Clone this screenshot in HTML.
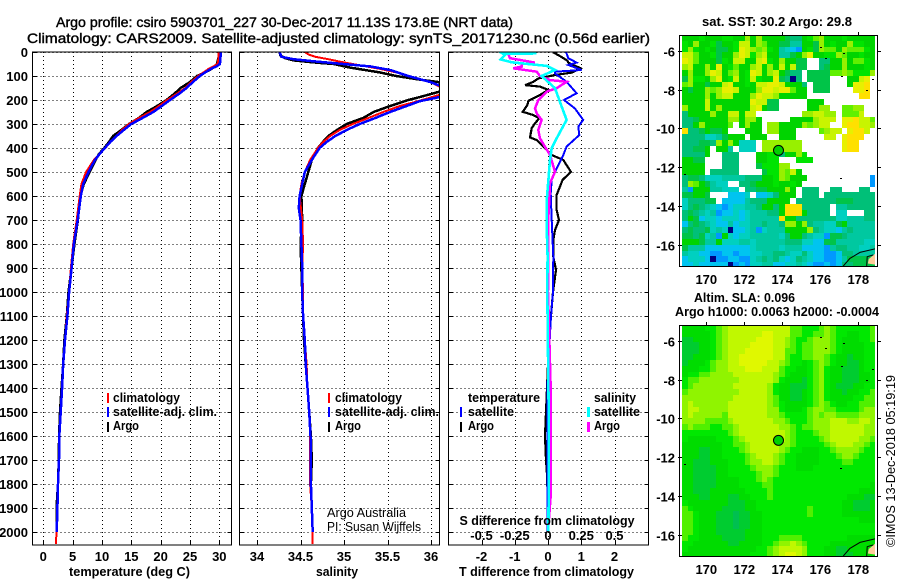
<!DOCTYPE html>
<html>
<head>
<meta charset="utf-8">
<title>Argo profile</title>
<style>
html,body{margin:0;padding:0;background:#fff;}
svg{display:block;}
text{font-family:"Liberation Sans",sans-serif;fill:#000;}
.b{font-weight:bold;font-size:13px;}
.m{font-weight:normal;font-size:14px;stroke:#000;stroke-width:0.4px;}
.r{font-size:13px;}
</style>
</head>
<body>
<svg id="chart" width="900" height="580" viewBox="0 0 900 580" xmlns="http://www.w3.org/2000/svg">
<defs>
<clipPath id="clip-temp"><rect x="33" y="52" width="198" height="493"/></clipPath>
<clipPath id="clip-salt"><rect x="240" y="52" width="199" height="493"/></clipPath>
<clipPath id="clip-diff"><rect x="449" y="52" width="199" height="493"/></clipPath>
<clipPath id="clip-sst"><rect x="682" y="36" width="193" height="230"/></clipPath>
<clipPath id="clip-sla"><rect x="682" y="326" width="193" height="230"/></clipPath>
</defs>
<rect x="0" y="0" width="900" height="580" fill="#fff"/>
<text class="m" x="56" y="27" textLength="457" lengthAdjust="spacingAndGlyphs">Argo profile: csiro 5903701_227 30-Dec-2017 11.13S 173.8E (NRT data)</text>
<text class="m" x="27" y="43" textLength="623" lengthAdjust="spacingAndGlyphs">Climatology: CARS2009. Satellite-adjusted climatology: synTS_20171230.nc (0.56d earlier)</text>
<g id="layer-grid"></g>
<g id="layer-maps"></g>
<text class="b" x="69" y="576" textLength="121" lengthAdjust="spacingAndGlyphs">temperature (deg C)</text>
<text class="b" x="316" y="576" textLength="42" lengthAdjust="spacingAndGlyphs">salinity</text>
<text class="b" x="459" y="576" textLength="175" lengthAdjust="spacingAndGlyphs">T difference from climatology</text>
<text class="b" x="459.5" y="525" textLength="175" lengthAdjust="spacingAndGlyphs">S difference from climatology</text>

<g>
<rect x="107" y="393" width="2" height="10" fill="#f00"/>
<rect x="107" y="407" width="2" height="10" fill="#00f"/>
<rect x="107" y="422" width="2" height="10" fill="#000"/>
<text class="b" x="113" y="402" textLength="67" lengthAdjust="spacingAndGlyphs">climatology</text>
<text class="b" x="113" y="416" textLength="104" lengthAdjust="spacingAndGlyphs">satellite-adj. clim.</text>
<text class="b" x="113" y="430" textLength="26" lengthAdjust="spacingAndGlyphs">Argo</text>
</g>
<g>
<rect x="328" y="393" width="2" height="10" fill="#f00"/>
<rect x="328" y="407" width="2" height="10" fill="#00f"/>
<rect x="328" y="422" width="2" height="10" fill="#000"/>
<text class="b" x="335" y="402" textLength="67" lengthAdjust="spacingAndGlyphs">climatology</text>
<text class="b" x="335" y="416" textLength="104" lengthAdjust="spacingAndGlyphs">satellite-adj. clim.</text>
<text class="b" x="335" y="430" textLength="26" lengthAdjust="spacingAndGlyphs">Argo</text>
<text class="r" x="327" y="517" textLength="79" lengthAdjust="spacingAndGlyphs">Argo Australia</text>
<text class="r" x="327" y="531" textLength="94" lengthAdjust="spacingAndGlyphs">PI: Susan Wijffels</text>
</g>
<g>
<text class="b" x="468" y="402" textLength="72" lengthAdjust="spacingAndGlyphs">temperature</text>
<rect x="460" y="407" width="2" height="10" fill="#00f"/>
<rect x="460" y="422" width="2" height="10" fill="#000"/>
<text class="b" x="468" y="416" textLength="46" lengthAdjust="spacingAndGlyphs">satellite</text>
<text class="b" x="468" y="430" textLength="26" lengthAdjust="spacingAndGlyphs">Argo</text>
<text class="b" x="594" y="402" textLength="42" lengthAdjust="spacingAndGlyphs">salinity</text>
<rect x="587" y="407" width="3" height="10" fill="#0ff"/>
<rect x="587" y="422" width="3" height="10" fill="#f0f"/>
<text class="b" x="594" y="416" textLength="46" lengthAdjust="spacingAndGlyphs">satellite</text>
<text class="b" x="594" y="430" textLength="26" lengthAdjust="spacingAndGlyphs">Argo</text>
</g>

<text class="b" x="702" y="26" textLength="150" lengthAdjust="spacingAndGlyphs">sat. SST: 30.2 Argo: 29.8</text>
<text class="b" x="694" y="302" textLength="101" lengthAdjust="spacingAndGlyphs">Altim. SLA: 0.096</text>
<text class="b" x="675" y="316" textLength="204" lengthAdjust="spacingAndGlyphs">Argo h1000: 0.0063 h2000: -0.0004</text>
<text class="r" transform="translate(895,547) rotate(-90)" x="0" y="0" textLength="172" lengthAdjust="spacingAndGlyphs">©IMOS 13-Dec-2018 05:19:19</text>

<script>
// ---------- chart data ----------
const depthTicks = [0,100,200,300,400,500,600,700,800,900,1000,1100,1200,1300,1400,1500,1600,1700,1800,1900,2000];
const tempTicks = [0,5,10,15,20,25,30];
const saltTicks = [34,34.5,35,35.5,36];
const saltTickLabels = ['34','34.5','35','35.5','36'];
const diffTTicks = [-2,-1,0,1,2];
const diffSTicks = [-0.5,-0.25,0,0.25,0.5];
const diffSTickLabels = ['-0.5','-0.25','0','0.25','0.5'];
const lonTicks = [170,172,174,176,178];
const latTicks = [-6,-8,-10,-12,-14,-16];

const tempDepths = [0,20,50,60,70,85,100,125,150,175,200,225,250,275,300,325,350,375,400,425,450,500,550,600,700,800,900,1000,1100,1200,1300,1400,1500,1600,1700,1800,1900,2000,2050];
const tempClim = [29.9,29.9,29.7,29.0,28.2,27.3,26.4,25.2,24.2,22.7,21.1,19.7,18.2,16.3,14.6,13.4,12.4,11.4,10.6,9.6,8.6,7.3,6.5,6.2,5.7,5.1,4.7,4.4,4.0,3.7,3.4,3.2,2.95,2.75,2.65,2.5,2.4,2.25,2.15];
const tempSat = [30.2,30.2,30.1,29.5,28.6,27.6,26.7,25.5,24.4,23.1,21.6,20.2,18.75,16.9,15,13.7,12.5,11.4,10.5,9.6,8.8,7.7,6.8,6.4,5.86,5.2,4.83,4.4,4.1,3.7,3.4,3.2,2.96,2.73,2.68,2.5,2.4,2.28];
const tempArgo = [29.9,29.9,29.6,29.2,28.7,27.6,26.2,25.0,23.4,22.3,21.0,19.4,17.6,16.3,14.6,13.3,11.9,11.2,10.4,9.5,8.9,7.9,6.9,6.3,5.9,5.3,4.8,4.3,4.0,3.6,3.4,3.1,2.85,2.7,2.65,2.5,2.25,2.25];

const saltClimDepths = [0,10,20,30,40,50,70,85,100,125,145,160,175,190,205,225,250,275,300,325,350,375,400,450,500,550,600,700,800,900,1000,1100,1200,1300,1400,1500,1600,1700,1800,1900,2000,2050];
const saltClim = [34.55,34.59,34.67,34.82,34.95,35.1,35.41,35.6,35.74,35.99,36.1,36.35,36.13,35.99,35.85,35.64,35.45,35.28,35.1,34.95,34.84,34.76,34.7,34.61,34.55,34.51,34.49,34.52,34.53,34.52,34.53,34.53,34.55,34.57,34.58,34.6,34.61,34.61,34.61,34.63,34.64,34.64];
const saltSatDepths = [0,10,20,30,40,50,60,75,100,125,140,160,175,190,205,225,250,275,300,325,350,375,400,450,500,550,600,650,700,800,900,1000,1100,1200,1300,1400,1500,1600,1700,1800,1900,2000];
const saltSat = [34.26,34.27,34.28,34.42,34.69,34.99,35.3,35.53,35.74,35.99,36.1,36.4,36.2,36.07,35.87,35.72,35.53,35.36,35.18,35.03,34.9,34.8,34.72,34.63,34.55,34.52,34.49,34.48,34.5,34.51,34.52,34.52,34.53,34.55,34.56,34.58,34.6,34.615,34.62,34.62,34.63,34.64];
const saltArgoDepths = [0,15,25,35,45,50,65,85,100,115,125,145,165,185,200,225,250,275,300,325,350,365,400,450,500,550,600,700,800,900,1000,1100,1200,1300,1400,1500,1600,1700,1800,1900,2000];
const saltArgo = [34.26,34.27,34.32,34.42,34.7,34.88,35.07,35.41,35.6,35.87,36.08,36.3,36.1,35.9,35.74,35.53,35.34,35.22,35.03,34.92,34.82,34.78,34.7,34.63,34.59,34.55,34.51,34.52,34.5,34.51,34.52,34.53,34.54,34.56,34.58,34.6,34.62,34.63,34.62,34.63,34.64];

const diffTArgoDepths = [0,17,36,44,68,86,96,110,124,138,144,158,179,203,221,249,263,276,297,318,356,367,394,429,450,499,533,596,658,700,742,783,853,908,1000,1100,1200,1300,1400,1500,1600,1700,1760,1900,2000];
const diffTArgo = [0.14,0.36,0.58,0.61,0.98,0.71,0.21,-0.29,-0.44,-0.69,-0.24,0.01,-0.24,-0.59,-0.62,-0.76,-0.44,-0.26,-0.39,-0.49,-0.54,-0.34,-0.14,0.11,0.46,0.69,0.44,0.26,0.26,0.33,0.21,0.16,0.16,0.24,0.15,0.09,0.03,0,-0.03,-0.06,-0.09,-0.06,-0.03,0,0];
const diffTSatDepths = [0,26,44,54,75,82,89,124,172,200,235,283,311,346,394,429,485,533,589,700,853,1000,1100,1200,1300,1500,2000];
const diffTSat = [0.54,0.61,0.86,0.61,1.01,0.21,0.21,0.56,0.86,0.48,0.81,1.06,0.91,0.94,0.56,0.46,0.26,0.11,0.08,0.11,0.16,0.15,0.09,0.05,0,-0.02,-0.02];
const diffSArgoDepths = [8,26,44,50,61,68,82,100,117,124,151,165,200,235,256,283,325,360,394,429,499,547,617,686,853,1000,1100,1400,1600,1800,1850,2000];
const diffSArgo = [-0.3,-0.286,-0.098,-0.198,-0.198,-0.26,-0.085,-0.06,0.015,0.14,0.065,-0.01,-0.073,-0.098,-0.085,-0.048,-0.073,-0.06,-0.023,0.015,0.053,0.015,0.01,0.003,0.003,0,0.005,0.02,0.02,0.02,0.02,0];
const diffSSatDepths = [6,8,12,31,43,58,75,100,151,228,283,360,401,450,533,617,728,853,1000,1500,1800,2000];
const diffSSat = [-0.085,-0.336,-0.323,-0.356,-0.273,-0.01,0.053,-0.048,0.053,0.103,0.14,0.065,0.028,0.015,0.003,-0.01,-0.01,-0.003,-0.005,0.005,0.005,0.003];

// Heatmap grids: one character per cell, ordered cold to warm ('.' = no data)
const sstRows = [
"77787778877a7a777 7655789a777877777",
"87a7786778bb7a977 6644776a7877a8877",
"8a87876678cba9a87 4321786a997a99987",
"bb9778677acb8ab77 4467ac7788a977877",
"cb9777687bb77bc87 a7766..5577a79987",
"ab77a7c78977ab7a7 b7b66..5677a77787",
"7a77acb79a78cb7ab 7655.666699a9888a",
"6a887ac78b78b877c 6505.6666...77bc.",
"9a77677bc7787bbcc b7775.666...7ccd.",
"7677a9accb777accb cc977.666....ccd.",
"7777a7abb777acbba 77777.........dd.",
"7777b7777777cbb66 .....777.........",
"a777b7a77777bc766 .....77aa..99aa..",
"57777a77bb7bb.... ....aabbaa.999b..",
"55677777aa7aa7... ..7777abbb.ccdbb9",
"557a77779.7a77.aa 7777a9abb..cddbba",
"d5567667...777.aa 777....9abb.cddb.",
"55553346777.777.. 777.....bb.cddd..",
"555665a7a7333.aaa aaaa.......cdd...",
"55667.774.333.aaa aaaa.......cdd...",
"55557..555...7788 577a8............",
"7766...555...7788 ...888...........",
"7777...555...6888 aa...............",
"7777.55555....688 a9b7.............",
"56653334444555778 a9777...........1",
"5a976433..5567778 7787............1",
"4177744333.556677 7a7.555..55...55.",
"66776...2223.2235 777.555.555555555",
"355566.2222455577 77.55555556665555",
"35654321233445775 7ddd55555.4455555",
"56543412232344455 7ddd75555.33...55",
"57623323332344444 d7755555553344455",
"25654322423344544 5aa7a544336744444",
"56556343022341344 47777a54332454444",
"66563417323344444 35775433166544444",
"77764473334434444 45553322664444433",
"64442222222234444 34442222145544334",
"43322112212233445 54335322112554444",
"23332011221134545 32354322112466666",
"22322222012133442 23343211212556666"
];
const slaRows = [
"77778 89abb bbbbb bbbb9 98889 a9888 8889",
"77777 89abb bbbbc cbbb9 98899 a9887 7889",
"66777 89abb bbbcc cbba9 889aa a9877 7889",
"66677 89abb bbccc cbba9 899aa a9877 7788",
"66677 89abb bcccc cbb99 899aa a9877 7788",
"66777 89abb ccccc cbb98 899aa 98776 7788",
"67778 9aabb ccccc bba98 8789a 98776 6788",
"77788 9aabb bcccb bb988 7789a 87766 6788",
"78899 aaaab bbbbb ba987 7789a 87766 6778",
"899aa aaaaa bbbbb ba877 7689a 87766 6778",
"89aaa aaaab bbbbb a8776 6689a 87666 7788",
"9aaaa aaaaa bbbbb a8776 6789a 87767 7889",
"aaaaa aaaab bbbbb a9776 6789a 87777 8899",
"abaaa aaabb bbbbb a9877 7789a 98778 8999",
"abbaa aaabb bbbbb aa877 789aa 99888 89aa",
"abaaa aa9bb bbbbb aa988 889a9 aa999 9aaa",
"aaaa9 999ab bbbbb baa98 889aa abbba abba",
"9a999 8899a bbbbb bbaa9 899aa abbbb bbaa",
"88888 8889a bbbbb bbba9 8889a abbbb bbaa",
"87777 78889 abbbb bbba9 88889 abbbb baa9",
"77777 77889 9abbb bbaa9 88888 9abbb aa98",
"77766 77888 9abbb bba98 87778 89aaa a988",
"77766 77888 89abb ba988 77778 889aa 9888",
"77666 77788 89aab ba988 77778 88899 8888",
"77666 67788 889aa a9888 77788 88888 8888",
"77666 67788 8889a a9888 88888 88888 8888",
"77666 67777 8889a 98888 88888 88888 8888",
"77666 67777 88889 98888 88888 88888 8887",
"77666 77777 78888 98888 88888 88888 8777",
"77766 77766 77888 98888 88888 88887 7766",
"87777 77766 67788 88888 88888 88877 6667",
"98777 77666 67788 88888 88988 88877 6667",
"99877 76665 66778 88888 88988 88877 7777",
"99877 76665 66778 88888 88888 88888 8777",
"99877 76665 66778 88888 88888 88888 8888",
"99877 76666 67778 88888 88888 88888 8888",
"98877 77666 67778 88999 98888 88887 7777",
"88777 77766 77778 89aab a9888 87777 7777",
"87777 77777 77788 9abbb ba888 77667 7777",
"77777 77777 77888 9abcc ba888 77666 7777"
];
const profileLon = [173.8];
const profileLat = [-11.13];
const islandLons = [175.98,177.2,176.27,177.07,178.7,178.4,168.8,177.05];
const islandLats = [-5.8,-6.14,-6.35,-7.31,-7.48,-8.03,-12.35,-12.55];
const reefOuterLons = [177.21,177.56,178.09,178.88];
const reefOuterLats = [-17.08,-16.69,-16.38,-16.2];
const reefInnerLons = [178.44,178.47,178.79];
const reefInnerLats = [-17.08,-16.6,-16.51];
const landLons = [178.5,178.55,178.7,179.0,179.0];
const landLats = [-16.95,-16.72,-16.6,-16.35,-17.03];

// ---------- helpers ----------
const NS = 'http://www.w3.org/2000/svg';
const gridLayer = document.getElementById('layer-grid');
const mapLayer = document.getElementById('layer-maps');
function add(parent, tag, attrs, txt){
  const n = document.createElementNS(NS, tag);
  for (const k in attrs) n.setAttribute(k, attrs[k]);
  if (txt !== undefined) n.textContent = txt;
  parent.appendChild(n);
  return n;
}
const depthY = d => 52 + 0.24 * d;
const tempX = v => 43.3 + 5.867 * v;
const saltX = v => 257 + 87 * (v - 34);
const diffTX = v => 548 + 33.25 * v;
const diffSX = v => 548 + 133 * v;
const lonX = v => 706.3 + 19 * (v - 170);
const latOff = v => 15.7 + 19.43 * (-6 - v);
const sstPalette = {'0':'#000080','1':'#0098ff','2':'#00c4f0','3':'#00d0c0','4':'#00c8a0','5':'#00c078','6':'#00c448','7':'#00d400','8':'#00e400','9':'#60f000','a':'#98f000','b':'#c8f400','c':'#e8f000','d':'#ffe000'};
const slaPalette = {'5':'#00c050','6':'#00cc30','7':'#00dc00','8':'#00e800','9':'#50f000','a':'#90f400','b':'#c0f800','c':'#e0f800'};

function panel(name, x0, x1, xTicks, xFn, xLabels, clipId){
  const g = add(gridLayer, 'g', {});
  
  
  depthTicks.forEach(d => {
    const y = Math.round(depthY(d)) + 0.5;
    const gl = add(g, 'line', {x1:x0, x2:x1, y1:y, y2:y, stroke:'#000', 'stroke-width':1, 'stroke-dasharray':'1 3', 'shape-rendering':'crispEdges'});
    
    
    const tl = add(g, 'line', {x1:x0, x2:x0+4, y1:y, y2:y, stroke:'#000', 'stroke-width':1, 'shape-rendering':'crispEdges'});
    
    
    const tr = add(g, 'line', {x1:x1-4, x2:x1, y1:y, y2:y, stroke:'#000', 'stroke-width':1, 'shape-rendering':'crispEdges'});
    
    
  });
  xTicks.forEach((v, i) => {
    const x = Math.round(xFn(v)) + 0.5;
    const gl = add(g, 'line', {x1:x, x2:x, y1:52, y2:545, stroke:'#000', 'stroke-width':1, 'stroke-dasharray':'1 3', 'shape-rendering':'crispEdges'});
    
    
    const tk = add(g, 'line', {x1:x, x2:x, y1:541, y2:545, stroke:'#000', 'stroke-width':1, 'shape-rendering':'crispEdges'});
    
    
    const lb = add(g, 'text', {x:xFn(v), y:561, 'text-anchor':'middle', class:'b'}, xLabels[i]);
    
    
  });
  const lines = add(g, 'g', {'clip-path':'url(#' + clipId + ')'});
  
  
  const box = add(g, 'rect', {x:x0, y:52, width:x1-x0, height:493, fill:'none', stroke:'#000', 'stroke-width':1.4, 'shape-rendering':'crispEdges'});
  
  
  return lines;
}
function series(group, name, depths, values, xFn, color, width){
  const pts = values.map((v, i) => xFn(v).toFixed(1) + ',' + depthY(depths[i]).toFixed(1)).join(' ');
  const p = add(group, 'polyline', {points:pts, fill:'none', stroke:color, 'stroke-width':width, 'stroke-linejoin':'miter', 'shape-rendering':'crispEdges'});
  
  
}

// ---------- profile panels ----------
depthTicks.forEach(d => {
  const t = add(gridLayer, 'text', {x:28, y:depthY(d)+5, 'text-anchor':'end', class:'b'}, String(d));
  
  
});
const tempGroup = panel('temperature', 32.5, 231.5, tempTicks, tempX, tempTicks.map(String), 'clip-temp');
series(tempGroup, 'temperature-argo-line', tempDepths, tempArgo, tempX, '#000', 2.5);
series(tempGroup, 'temperature-climatology-line', tempDepths, tempClim, tempX, '#f00', 2);
series(tempGroup, 'temperature-satellite-line', tempDepths, tempSat, tempX, '#00f', 2.5);

const saltGroup = panel('salinity', 239.5, 439.5, saltTicks, saltX, saltTickLabels, 'clip-salt');
series(saltGroup, 'salinity-argo-line', saltArgoDepths, saltArgo, saltX, '#000', 2.5);
series(saltGroup, 'salinity-climatology-line', saltClimDepths, saltClim, saltX, '#f00', 2);
series(saltGroup, 'salinity-satellite-line', saltSatDepths, saltSat, saltX, '#00f', 2.5);

const diffGroup = panel('difference', 448.5, 648.5, diffTTicks, diffTX, diffTTicks.map(String), 'clip-diff');
series(diffGroup, 'difference-t-argo-line', diffTArgoDepths, diffTArgo, diffTX, '#000', 2.2);
series(diffGroup, 'difference-t-satellite-line', diffTSatDepths, diffTSat, diffTX, '#00f', 2);
series(diffGroup, 'difference-s-argo-line', diffSArgoDepths, diffSArgo, diffSX, '#f0f', 2.5);
series(diffGroup, 'difference-s-satellite-line', diffSSatDepths, diffSSat, diffSX, '#0ff', 2.6);
diffSTicks.forEach((v, i) => {
  const t = add(gridLayer, 'text', {x:diffSX(v), y:540, 'text-anchor':'middle', class:'b'}, diffSTickLabels[i]);
  
  
});

// ---------- maps ----------
function drawMap(name, rows, top, clipId, palette){
  const g = add(mapLayer, 'g', {});
  
  
  const lat2y = v => top + latOff(v);
  const cells = add(g, 'g', {'clip-path':'url(#' + clipId + ')'});
  
  
  const lon0 = 168.72, lat0 = -5.19, step = 0.3;
  rows.forEach((row, r) => {
    const codes = row.replace(/ /g, '');
    for (let c = 0; c < codes.length; c++) {
      const col = palette[codes[c]];
      if (!col) continue;
      const x0 = Math.round(lonX(lon0 + step * c)), x1 = Math.round(lonX(lon0 + step * (c + 1)));
      const y0 = Math.round(lat2y(lat0 - step * r)), y1 = Math.round(lat2y(lat0 - step * (r + 1)));
      const cell = add(cells, 'rect', {x:x0, y:y0, width:x1-x0, height:y1-y0, fill:col, 'shape-rendering':'crispEdges'});
      
      
    }
  });
  const land = add(cells, 'polygon', {points:landLons.map((v, i) => lonX(v).toFixed(1) + ',' + lat2y(landLats[i]).toFixed(1)).join(' '), fill:'#ffcc99', stroke:'none'});
  
  
  const outer = add(cells, 'polyline', {points:reefOuterLons.map((v, i) => lonX(v).toFixed(1) + ',' + lat2y(reefOuterLats[i]).toFixed(1)).join(' '), fill:'none', stroke:'#000', 'stroke-width':1});
  
  
  const inner = add(cells, 'polyline', {points:reefInnerLons.map((v, i) => lonX(v).toFixed(1) + ',' + lat2y(reefInnerLats[i]).toFixed(1)).join(' '), fill:'none', stroke:'#000', 'stroke-width':1});
  
  
  islandLons.forEach((v, i) => {
    const s = add(cells, 'rect', {x:Math.round(lonX(v)), y:Math.round(lat2y(islandLats[i])), width:2, height:1, fill:'#000', 'shape-rendering':'crispEdges'});
    
    
  });
  const mk = add(g, 'circle', {cx:lonX(profileLon[0]), cy:lat2y(profileLat[0]), r:5, fill:'#00d000', stroke:'#000', 'stroke-width':1});
  
  
  const box = add(g, 'rect', {x:679.5, y:top+0.5, width:198, height:231, fill:'none', stroke:'#000', 'stroke-width':1.3, 'shape-rendering':'crispEdges'});
  
  
  lonTicks.forEach(v => {
    const x = Math.round(lonX(v)) + 0.5;
    const t = add(g, 'line', {x1:x, x2:x, y1:top-3, y2:top, stroke:'#000', 'stroke-width':1, 'shape-rendering':'crispEdges'});
    
    
    const l = add(g, 'text', {x:lonX(v), y:top+249, 'text-anchor':'middle', class:'b'}, String(v));
    
    
  });
  latTicks.forEach(v => {
    const y = Math.round(lat2y(v)) + 0.5;
    const t = add(g, 'line', {x1:678, x2:682, y1:y, y2:y, stroke:'#000', 'stroke-width':1, 'shape-rendering':'crispEdges'});
    
    
    const t2 = add(g, 'line', {x1:878, x2:881, y1:y, y2:y, stroke:'#000', 'stroke-width':1, 'shape-rendering':'crispEdges'});
    
    
    const l = add(g, 'text', {x:675, y:y+5, 'text-anchor':'end', class:'b'}, String(v));
    
    
  });
}
drawMap('sst', sstRows, 35, 'clip-sst', sstPalette);
drawMap('sla', slaRows, 325, 'clip-sla', slaPalette);
</script>
</svg>
</body>
</html>
